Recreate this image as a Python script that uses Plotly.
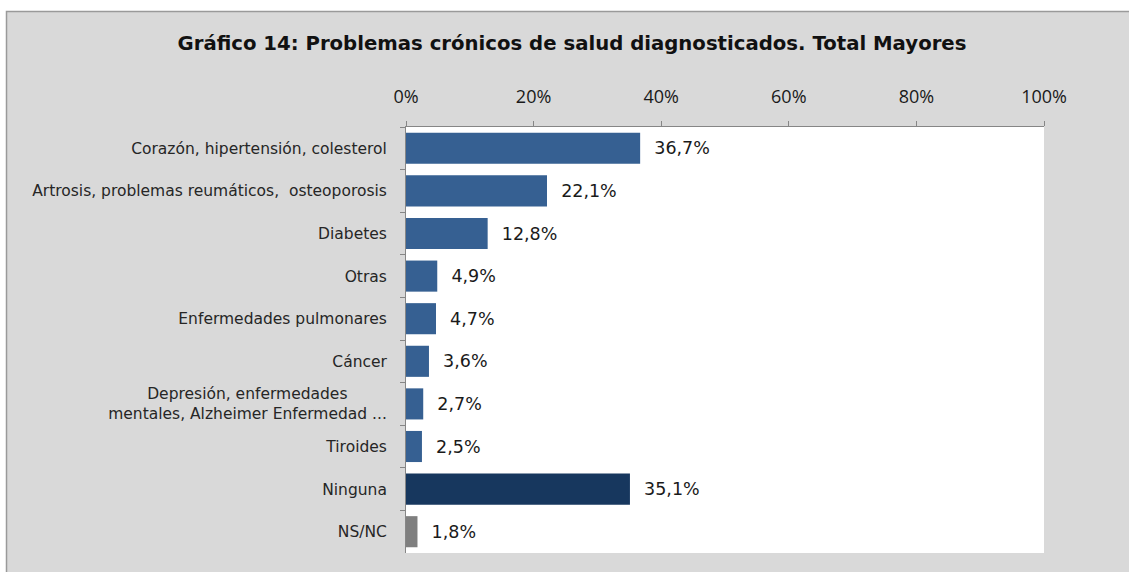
import plotly.graph_objects as go

categorias = [
    "Corazón, hipertensión, colesterol",
    "Artrosis, problemas reumáticos,  osteoporosis",
    "Diabetes",
    "Otras",
    "Enfermedades pulmonares",
    "Cáncer",
    "Depresión, enfermedades        <br>mentales, Alzheimer Enfermedad ...",
    "Tiroides",
    "Ninguna",
    "NS/NC",
]
valores = [36.7, 22.1, 12.8, 4.9, 4.7, 3.6, 2.7, 2.5, 35.1, 1.8]
colores = ["#366092"] * 8 + ["#17375E", "#7F7F7F"]
etiquetas = ["  " + f"{v:.1f}".replace(".", ",") + "%" for v in valores]

W, H = 1129, 572
L, R, T, B = 406, 1044, 127, 553


def px_x(p):
    return (p - L) / (R - L)


def px_y(p):
    return (B - p) / (B - T)


fig = go.Figure(
    go.Bar(
        x=valores,
        y=categorias,
        orientation="h",
        marker=dict(color=colores, line=dict(width=0)),
        text=etiquetas,
        textposition="outside",
        textfont=dict(size=17.5, color="#1a1a1a", family="DejaVu Sans"),
        cliponaxis=False,
        hoverinfo="skip",
    )
)

fig.update_layout(
    width=W, height=H,
    margin=dict(l=L, r=W - R, t=T, b=H - B),
    paper_bgcolor="white",
    plot_bgcolor="white",
    bargap=0.27,
    showlegend=False,
    font=dict(family="DejaVu Sans", color="#1a1a1a"),
    title=dict(
        text="<b>Gráfico 14: Problemas crónicos de salud diagnosticados. Total Mayores</b>",
        x=572 / W, xanchor="center", xref="container",
        y=1 - 43 / H, yanchor="middle", yref="container",
        font=dict(size=19.7, color="#111111", family="DejaVu Sans"),
    ),
    shapes=[
        dict(type="rect", xref="paper", yref="paper", layer="below",
             x0=px_x(6.5), x1=px_x(1140), y0=px_y(600), y1=px_y(11.5),
             fillcolor="#D9D9D9", line=dict(color="#9a9a9a", width=1.5)),
        dict(type="rect", xref="paper", yref="paper", layer="below",
             x0=0, x1=1, y0=0, y1=1,
             fillcolor="white", line=dict(width=0)),
    ],
)

fig.update_xaxes(
    side="top", range=[0, 100], dtick=20, ticksuffix="%",
    showgrid=False, zeroline=False,
    showline=True, linecolor="#868686", linewidth=1,
    ticks="outside", ticklen=5, tickcolor="#868686",
    ticklabelstandoff=11,
    tickfont=dict(size=18, family="Open Sans", color="#1a1a1a"),
)
fig.update_yaxes(
    autorange="reversed",
    showgrid=False, zeroline=False,
    showline=True, linecolor="#868686", linewidth=1,
    ticks="outside", ticklen=5, tickcolor="#868686",
    tickson="boundaries", ticklabelstandoff=15,
    tickfont=dict(size=15.5, family="DejaVu Sans", color="#262626"),
)

# drop the page's default body margin so the figure sits at (0, 0)
fig.write_html(
    "out.html",
    config={"displayModeBar": False},
    post_script="document.body.style.margin='0';document.body.style.overflow='hidden';",
)
